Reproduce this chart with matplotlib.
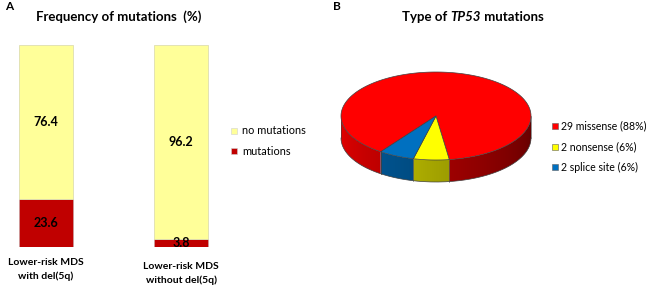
import numpy as np
import matplotlib
matplotlib.use('Agg')
import matplotlib.pyplot as plt
import matplotlib.colors as mcolors
from matplotlib.patches import Polygon, Rectangle

plt.rcParams['font.family'] = ['Lato', 'DejaVu Sans']

# panel A data
groups = ["Lower-risk MDS\nwith del(5q)", "Lower-risk MDS\nwithout del(5q)"]
no_mut = [76.4, 96.2]
mut = [23.6, 3.8]
bar_legend = ["no mutations", "mutations"]
bar_colors = ["#ffff99", "#c00000"]

# panel B data
types = ["missense", "nonsense", "splice site"]
counts = [29, 2, 2]
type_colors = ["#ff0000", "#ffff00", "#0070c0"]

W, H = 650, 286
fig = plt.figure(figsize=(W / 100, H / 100), dpi=100)


def fx(px):
    return px / W


def fy(py):
    return 1 - py / H


# ---------------- panel A: stacked bars
axA = fig.add_axes([fx(12), fy(247), 203 / W, 202 / H])
x = np.arange(len(groups))
axA.bar(x, mut, width=0.4, color=bar_colors[1], edgecolor='#c8a0a0', lw=0.5)
axA.bar(x, no_mut, width=0.4, bottom=mut, color=bar_colors[0],
        edgecolor='#dedeb0', lw=0.6)
axA.set_xlim(-(46 - 12) / 135, (215 - 46) / 135)
axA.set_ylim(0, 100)
axA.axis('off')
for i in x:
    axA.text(i, mut[i] + no_mut[i] / 2, "{:.1f}".format(no_mut[i]),
             ha='center', va='center', fontweight='bold', fontsize=9)
    axA.text(i, mut[i] / 2, "{:.1f}".format(mut[i]),
             ha='center', va='center', fontweight='bold', fontsize=9)
label_off = [-5.5, -7.5]
for i in x:
    axA.text(i, label_off[i], groups[i], ha='center', va='top',
             fontweight='bold', fontsize=7.5, linespacing=1.55, clip_on=False)

fig.text(fx(5), fy(7), "A", fontweight='bold', fontsize=8.5, va='center')
fig.text(fx(119), fy(17), "Frequency of mutations  (%)", fontweight='bold',
         fontsize=9.5, ha='center', va='center')

leg_y = [131, 151]
for lab, col, yy in zip(bar_legend, bar_colors, leg_y):
    fig.patches.append(Rectangle((fx(231), fy(yy + 3)), 6 / W, 6 / H,
                                 transform=fig.transFigure, fc=col,
                                 ec='#d0d0d0', lw=0.4))
    fig.text(fx(242), fy(yy), lab, fontsize=7.9, va='center')

# ---------------- panel B: 3D-look pie
cx, cy, R = 436, 116, 95
k = 44 / R
d = 22 / R
axB = fig.add_axes([fx(330), fy(200), 215 / W, 140 / H])
x0, x1 = (330 - cx) / R, (545 - cx) / R
y0, y1 = -(200 - cy) / R, (cy - 60) / R

frac = np.array(counts) / sum(counts)
start = 234.4
edges = start - np.concatenate([[0], np.cumsum(frac) * 360])
edge_col = '#404040'

# side wall shading, darker towards the right
gx = np.linspace(-1, 1, 400)
theta = 360 - np.degrees(np.arccos(gx))
shade = 0.9 - (theta - 180) / 180 * 0.52

for i in range(len(counts)):
    a0, a1 = edges[i + 1], edges[i]
    lo, hi = a0 % 360, a1 % 360
    # front-facing part of the wedge arc
    if a1 - a0 > 180:
        segs = [(180, hi), (lo, 360)]
    else:
        segs = [(max(lo, 180), min(hi if hi > lo else 360, 360))]
    base = np.array(mcolors.to_rgb(type_colors[i]))
    img = np.clip(base[None, None, :] * shade[None, :, None], 0, 1)
    for s0, s1 in segs:
        if s1 <= s0:
            continue
        ts = np.radians(np.linspace(s0, s1, 120))
        top = list(zip(np.cos(ts), k * np.sin(ts)))
        bot = list(zip(np.cos(ts[::-1]), k * np.sin(ts[::-1]) - d))
        poly = Polygon(top + bot, closed=True, fc='none', ec='none')
        axB.add_patch(poly)
        im = axB.imshow(img, extent=[-1, 1, -k - d - 0.05, 0.05],
                        aspect='auto', interpolation='bilinear', zorder=1)
        im.set_clip_path(poly)
axB.set_xlim(x0, x1)
axB.set_ylim(y0, y1)
axB.axis('off')

# seams and bottom outline on the front
for a in list(edges) + [180, 360]:
    t = np.radians(a)
    if np.sin(t) <= 1e-9:
        axB.plot([np.cos(t), np.cos(t)], [k * np.sin(t), k * np.sin(t) - d],
                 color=edge_col, lw=0.4, zorder=2)
tb = np.radians(np.linspace(180, 360, 200))
axB.plot(np.cos(tb), k * np.sin(tb) - d, color=edge_col, lw=0.5, zorder=2)

for i in range(len(counts)):
    a0, a1 = edges[i + 1], edges[i]
    ts = np.radians(np.linspace(a0, a1, 300))
    pts = [(0, 0)] + list(zip(np.cos(ts), k * np.sin(ts)))
    axB.add_patch(Polygon(pts, closed=True, fc=type_colors[i], ec=edge_col,
                          lw=0.5, zorder=3))

fig.text(fx(333), fy(7), "B", fontweight='bold', fontsize=8.5, va='center')

# title with italic gene name
renderer = fig.canvas.get_renderer()
parts = [("Type of ", 'normal'), ("TP53", 'italic'), (" mutations", 'normal')]
texts = []
for s, st in parts:
    t = fig.text(0, fy(17), s, fontweight='bold', style=st, fontsize=9.5,
                 va='center')
    texts.append(t)
widths = [t.get_window_extent(renderer).width for t in texts]
xpos = 473 - sum(widths) / 2
for t, w in zip(texts, widths):
    t.set_x(fx(xpos))
    xpos += w

pie_leg_y = [126, 147, 167]
for n, name, col, yy in zip(counts, types, type_colors, pie_leg_y):
    pct = int(round(100.0 * n / sum(counts)))
    fig.patches.append(Rectangle((fx(552), fy(yy + 3)), 6 / W, 6 / H,
                                 transform=fig.transFigure, fc=col,
                                 ec='#606060', lw=0.4))
    fig.text(fx(561), fy(yy), "{} {} ({}%)".format(n, name, pct),
             fontsize=7.6, va='center')

fig.savefig('out.png', dpi=100)
